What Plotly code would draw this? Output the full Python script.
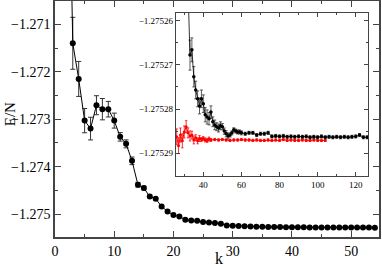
import plotly.graph_objects as go

# ---- main panel data ----
main_k = list(range(2, 55))
main_e = [-1.2650, -1.271397, -1.272149, -1.273028, -1.273196, -1.272703, -1.272787,
          -1.272787, -1.273028, -1.273371, -1.273518, -1.273876, -1.274382, -1.274451,
          -1.274628, -1.274677, -1.274839, -1.274944, -1.275020, -1.275050, -1.275119,
          -1.275134, -1.275140, -1.275167, -1.275176, -1.275188, -1.275203, -1.275239,
          -1.275245, -1.275252, -1.275258, -1.275262, -1.275265, -1.275267, -1.275270,
          -1.275272, -1.275274, -1.275276, -1.275277, -1.275278, -1.275279, -1.275280,
          -1.275281, -1.275281, -1.275282, -1.275282, -1.275283, -1.275283, -1.275284,
          -1.275284, -1.275285, -1.275285, -1.275286]
main_err = [0.0006, 0.000548, 0.000369, 0.000256, 0.000239, 0.0002, 0.000225,
            0.000164, 0.000158, 0.00009, 0.000084, 0.00008, 0.00005, 0.00004,
            0.00003, 0.00003, 0.00002, 0.00002, 0.00002, 0.000015, 0.000015,
            0.000012, 0.000012, 0.00001, 0.00001, 0.00001, 0.00001, 0.00001,
            0.00001, 0.00001, 0.00001, 0.00001, 0.00001, 0.00001, 0.00001,
            0.00001, 0.00001, 0.00001, 0.00001, 0.00001, 0.00001, 0.00001,
            0.00001, 0.00001, 0.00001, 0.00001, 0.00001, 0.00001, 0.00001,
            0.00001, 0.00001, 0.00001, 0.00001]

# ---- inset data: black series ----
ins_k_black = list(range(32, 61)) + list(range(62, 127, 2))
ins_e_black = [-1.2752531, -1.2752678, -1.2752666, -1.2752727, -1.2752757, -1.2752777,
               -1.2752793, -1.2752777, -1.2752788, -1.2752813, -1.2752818, -1.2752822,
               -1.2752807, -1.2752829, -1.2752836, -1.2752840, -1.2752843, -1.2752838,
               -1.2752840, -1.2752850, -1.2752856, -1.2752861, -1.2752859, -1.2752854,
               -1.2752847, -1.2752850, -1.2752852, -1.2752852, -1.2752854,
               -1.2752856, -1.2752854, -1.2752854, -1.2752859, -1.2752856, -1.2752856,
               -1.2752854, -1.2752862, -1.2752861, -1.2752862, -1.2752861, -1.2752863,
               -1.2752862, -1.2752863, -1.2752862, -1.2752863, -1.2752862, -1.2752864,
               -1.2752863, -1.2752864, -1.2752862, -1.2752864, -1.2752863, -1.2752864,
               -1.2752863, -1.2752864, -1.2752863, -1.2752864, -1.2752863, -1.2752862,
               -1.2752859, -1.2752864, -1.2752864]
ins_err_black = [4.0e-6, 3.4e-6, 2.7e-6, 2.3e-6, 2.0e-6, 1.8e-6, 1.8e-6, 2.0e-6, 2.0e-6,
                 1.6e-6, 1.6e-6, 1.4e-6, 1.4e-6, 1.1e-6, 1.1e-6, 0.9e-6, 0.9e-6, 0.9e-6,
                 0.7e-6, 0.7e-6, 0.7e-6, 0.7e-6, 0.45e-6, 0.45e-6, 0.45e-6, 0.45e-6,
                 0.45e-6, 0.45e-6, 0.45e-6,
                 0.35e-6, 0.35e-6, 0.35e-6, 0.35e-6, 0.35e-6, 0.35e-6, 0.35e-6, 0.35e-6,
                 0.35e-6, 0.35e-6, 0.35e-6, 0.35e-6, 0.35e-6, 0.35e-6, 0.35e-6, 0.35e-6,
                 0.35e-6, 0.35e-6, 0.35e-6, 0.35e-6, 0.35e-6, 0.35e-6, 0.35e-6, 0.35e-6,
                 0.35e-6, 0.35e-6, 0.35e-6, 0.35e-6, 0.35e-6, 0.35e-6, 0.35e-6, 0.35e-6,
                 0.35e-6]

# ---- inset data: red series ----
ins_k_red = list(range(26, 45)) + list(range(46, 107, 2))
ins_e_red = [-1.2752863, -1.2752883, -1.2752859, -1.2752872, -1.2752852, -1.2752840,
             -1.2752854, -1.2752861, -1.2752859, -1.2752870, -1.2752865, -1.2752872,
             -1.2752867, -1.2752869, -1.2752867, -1.2752870, -1.2752871, -1.2752868,
             -1.2752870,
             -1.2752869, -1.2752870, -1.2752869, -1.2752870, -1.2752871, -1.2752870,
             -1.2752870, -1.2752869, -1.2752870, -1.2752870, -1.2752871, -1.2752870,
             -1.2752871, -1.2752871, -1.2752870, -1.2752871, -1.2752870, -1.2752871,
             -1.2752869, -1.2752871, -1.2752870, -1.2752871, -1.2752871, -1.2752870,
             -1.2752871, -1.2752871, -1.2752870, -1.2752871, -1.2752871, -1.2752871]
ins_err_red = [1.8e-6, 1.8e-6, 1.6e-6, 1.6e-6, 1.36e-6, 1.36e-6, 1.13e-6, 1.13e-6,
               0.9e-6, 0.9e-6, 0.68e-6, 0.68e-6, 0.68e-6, 0.45e-6, 0.45e-6, 0.45e-6,
               0.45e-6, 0.45e-6, 0.34e-6] + [0.25e-6] * 31

FONT = "Liberation Serif"
AX = "#444444"

fig = go.Figure()

fig.add_trace(go.Scatter(
    x=main_k, y=main_e, mode="lines+markers",
    line=dict(color="black", width=1),
    marker=dict(color="black", size=6),
    error_y=dict(type="data", array=main_err, color="#333333", thickness=1, width=2.5),
    xaxis="x", yaxis="y", showlegend=False, cliponaxis=True))

fig.add_trace(go.Scatter(
    x=ins_k_red, y=ins_e_red, mode="lines+markers",
    line=dict(color="red", width=1),
    marker=dict(color="red", size=3),
    error_y=dict(type="data", array=ins_err_red, color="red", thickness=0.8, width=1.2),
    xaxis="x2", yaxis="y2", showlegend=False))

fig.add_trace(go.Scatter(
    x=ins_k_black, y=ins_e_black, mode="lines+markers",
    line=dict(color="black", width=0.8),
    marker=dict(color="black", size=3.5),
    error_y=dict(type="data", array=ins_err_black, color="#333333", thickness=0.8, width=1.5),
    xaxis="x2", yaxis="y2", showlegend=False))

axis_common = dict(showline=True, linecolor=AX, linewidth=1.5, mirror="ticks",
                   ticks="inside", tickcolor=AX, showgrid=False, zeroline=False,
                   automargin=False)

fig.update_layout(
    width=382, height=266,
    margin=dict(l=55, r=3, t=1, b=29),
    paper_bgcolor="white", plot_bgcolor="white",
    font=dict(family=FONT, color="black"),
    xaxis=dict(domain=[0, 1], range=[0, 54.7], tick0=0, dtick=10, ticklen=6,
               tickwidth=1.2, tickfont=dict(family=FONT, size=14),
               minor=dict(dtick=5, ticklen=3, ticks="inside", tickcolor=AX),
               anchor="y", **axis_common),
    yaxis=dict(domain=[0, 1], range=[-1.275483, -1.270505], tick0=-1.275, dtick=0.001,
               tickformat=".3f", ticklen=6, tickwidth=1.2,
               tickfont=dict(family=FONT, size=14),
               minor=dict(dtick=0.0005, ticklen=3, ticks="inside", tickcolor=AX),
               anchor="x", **axis_common),
    xaxis2=dict(domain=[0.3735, 0.967], range=[25.67, 126.6], tick0=0, dtick=20,
                ticklen=4, tickwidth=1, tickfont=dict(family=FONT, size=9),
                minor=dict(dtick=10, ticklen=2, ticks="inside", tickcolor=AX),
                anchor="y2", **{**axis_common, "linewidth": 1.2}),
    yaxis2=dict(domain=[0.2597, 0.9504], range=[-1.2752951, -1.2752582],
                tick0=-1.27529, dtick=0.00001, tickformat=".5f", ticklen=4, tickwidth=1,
                tickfont=dict(family=FONT, size=9),
                minor=dict(dtick=0.000005, ticklen=2, ticks="inside", tickcolor=AX),
                anchor="x2", **{**axis_common, "linewidth": 1.2}),
    annotations=[
        dict(text="E/N", xref="paper", yref="paper", x=-0.139, y=0.52,
             textangle=-90, showarrow=False, font=dict(family=FONT, size=15),
             xanchor="center", yanchor="middle"),
        dict(text="k", xref="paper", yref="paper", x=0.506, y=-0.09,
             showarrow=False, font=dict(family=FONT, size=16),
             xanchor="center", yanchor="middle"),
    ],
)

fig.write_html("out.html",
               config={"displayModeBar": False},
               post_script="document.body.style.margin='0';document.body.style.padding='0';")
